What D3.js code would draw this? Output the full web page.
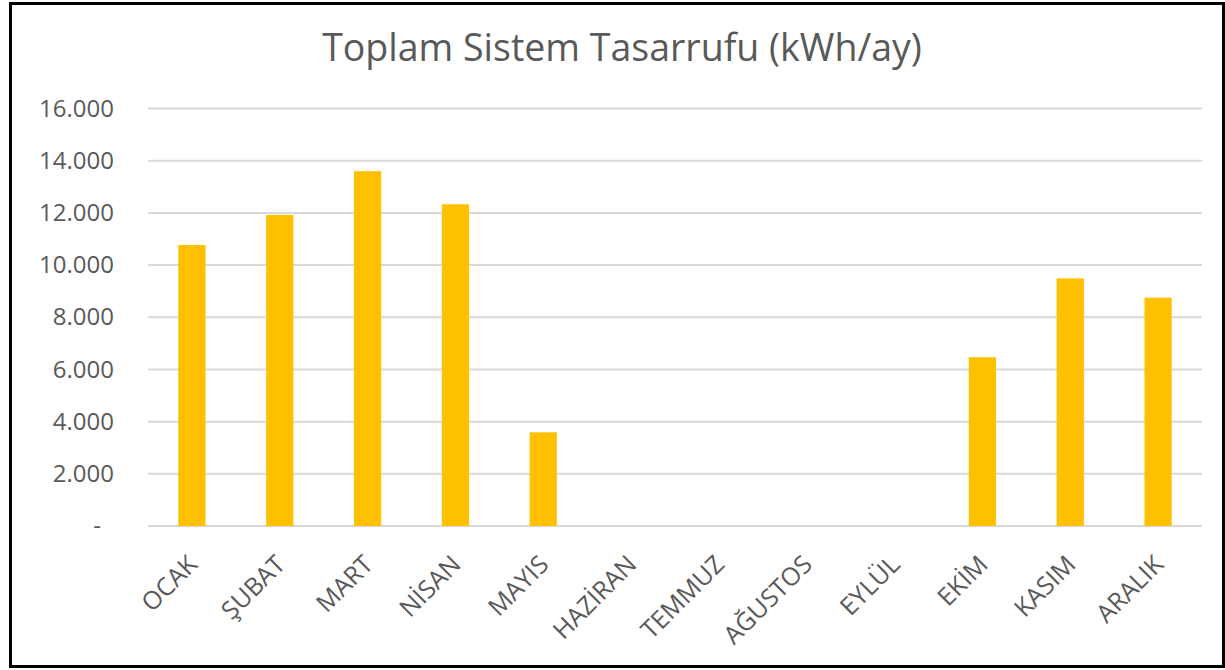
<!DOCTYPE html>
<html lang="tr">
<head>
  <meta charset="UTF-8">
  <title>Toplam Sistem Tasarrufu</title>
  <style>
    body { margin: 0; background: #fff; }
    svg { display: block; font-family: "Open Sans", sans-serif; }
  </style>
</head>
<body>
  <div id="chart"></div>
  <script src="https://cdn.jsdelivr.net/npm/d3@7"></script>
  <script>
    // aylar ve tasarruf degerleri (kWh/ay)
    var months = ['OCAK', 'ŞUBAT', 'MART', 'NİSAN', 'MAYIS', 'HAZİRAN', 'TEMMUZ', 'AĞUSTOS', 'EYLÜL', 'EKİM', 'KASIM', 'ARALIK'];
    var savings = [10770, 11920, 13600, 12330, 3590, 0, 0, 0, 0, 6470, 9490, 8750];
    var yTicks = [0, 2000, 4000, 6000, 8000, 10000, 12000, 14000, 16000];
    var title = 'Toplam Sistem Tasarrufu (kWh/ay)';

    var W = 1225, H = 670;
    var margin = {top: 108.5, right: 23, bottom: 144, left: 148};

    var svg = d3.select('#chart').append('svg')
      .attr('width', W)
      .attr('height', H);

    // cerceve
    svg.append('rect')
      .attr('x', 10.5).attr('y', 3.5)
      .attr('width', 1213).attr('height', 663)
      .attr('fill', '#fff')
      .attr('stroke', '#000')
      .attr('stroke-width', 3);

    var x = d3.scaleBand()
      .domain(months)
      .range([margin.left, W - margin.right])
      .paddingInner(0.69)
      .paddingOuter(0.345);

    var y = d3.scaleLinear()
      .domain([0, 16000])
      .range([H - margin.bottom, margin.top]);

    var fmt = function(v) {
      if (v === 0) return '-';
      return d3.format(',')(v).replace(/,/g, '.');
    };

    // grid
    svg.append('g')
      .selectAll('line')
      .data(yTicks)
      .enter()
      .append('line')
      .attr('x1', margin.left)
      .attr('x2', W - margin.right)
      .attr('y1', function(d) { return y(d); })
      .attr('y2', function(d) { return y(d); })
      .attr('stroke', '#d9d9d9')
      .attr('stroke-width', 2);

    // y ekseni
    var yAxis = svg.append('g')
      .attr('transform', 'translate(' + (margin.left - 34) + ',0)')
      .call(d3.axisLeft(y).tickValues(yTicks).tickFormat(fmt).tickSize(0).tickPadding(0));
    yAxis.select('.domain').remove();
    yAxis.selectAll('text')
      .attr('fill', '#595959')
      .style('font-size', '24px')
      .style('font-family', '"Open Sans", sans-serif')
      .attr('dx', function(d) { return d === 0 ? -13 : 0; });

    // cubuklar
    svg.append('g')
      .selectAll('rect')
      .data(savings)
      .enter()
      .append('rect')
      .attr('x', function(d, i) { return x(months[i]); })
      .attr('y', function(d) { return y(d); })
      .attr('width', x.bandwidth())
      .attr('height', function(d) { return y(0) - y(d); })
      .attr('fill', '#ffc000');

    // x ekseni
    var xAxis = svg.append('g')
      .attr('transform', 'translate(0,' + (H - margin.bottom) + ')')
      .call(d3.axisBottom(x).tickSize(0).tickPadding(0));
    xAxis.select('.domain').remove();
    xAxis.selectAll('text')
      .attr('fill', '#595959')
      .style('font-size', '25px')
      .style('font-family', '"Open Sans", sans-serif')
      .attr('text-anchor', 'end')
      .attr('dy', null)
      .attr('y', 0)
      .attr('transform', 'translate(7,40) rotate(-45)');

    // baslik
    svg.append('text')
      .attr('x', 622)
      .attr('y', 61)
      .attr('text-anchor', 'middle')
      .attr('fill', '#595959')
      .style('font-size', '37.5px')
      .text(title);
  </script>
</body>
</html>
